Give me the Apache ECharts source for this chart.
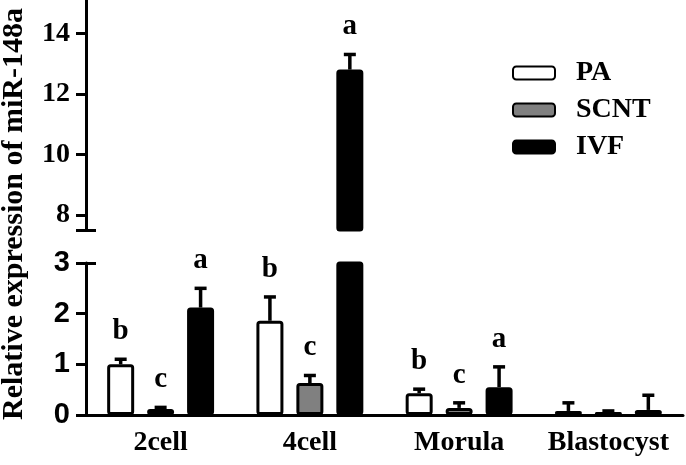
<!DOCTYPE html>
<html>
<head>
<meta charset="utf-8">
<script src="https://cdn.jsdelivr.net/npm/echarts@6/dist/echarts.min.js"></script>
<style>html,body{margin:0;padding:0;background:#fff}#c{width:686px;height:465px}</style>
</head>
<body>
<div id="c"></div>
<script>
var categories = ['2cell', '4cell', 'Morula', 'Blastocyst'];
var seriesNames = ['PA', 'SCNT', 'IVF'];
var paValues = [1.0, 1.86, 0.43, 0.08];
var paErrors = [0.1, 0.47, 0.08, 0.16];
var paLetters = ['b', 'b', 'b', ''];
var scntValues = [0.12, 0.63, 0.14, 0.06];
var scntErrors = [0.03, 0.15, 0.1, 0.02];
var scntLetters = ['c', 'c', 'c', ''];
var ivfValues = [2.12, 12.8, 0.55, 0.1];
var ivfErrors = [0.38, 0.5, 0.4, 0.29];
var ivfLetters = ['a', 'a', 'a', ''];
var lowerTicks = [0, 1, 2, 3];
var upperTicks = [8, 10, 12, 14];
var LOWER_MAX = 3, UPPER_MIN = 7.5, UPPER_MAX = 15.1;

var SERIF = '"Liberation Serif", "Times New Roman", serif';
var SANS = '"Liberation Sans", Arial, sans-serif';
var BAR_W = 27, GAP_FRAC = 0.48;
var fills = ['#ffffff', '#808080', '#000000'];
var allValues = [paValues, scntValues, ivfValues];
var allErrors = [paErrors, scntErrors, ivfErrors];
var allLetters = [paLetters, scntLetters, ivfLetters];

function errData(s, upper) {
  var out = [];
  allValues[s].forEach(function (v, i) {
    if (upper ? v >= UPPER_MIN : v <= LOWER_MAX) out.push([i, v, allErrors[s][i], allLetters[s][i]]);
  });
  return out;
}
function makeRender(s) {
  var off = (s - 1) * BAR_W * (1 + GAP_FRAC);
  return function (params, api) {
    var i = api.value(0), v = api.value(1), e = api.value(2);
    var letter = allLetters[s][i];
    var p0 = api.coord([i, v]);
    var p1 = api.coord([i, v + e]);
    var x = p0[0] + off;
    var children = [
      {type: 'line', shape: {x1: x, y1: p0[1], x2: x, y2: p1[1]}, style: {stroke: '#000', lineWidth: 3.5}},
      {type: 'line', shape: {x1: x - 6, y1: p1[1], x2: x + 6, y2: p1[1]}, style: {stroke: '#000', lineWidth: 3.5}}
    ];
    if (letter) {
      children.push({type: 'text', x: x, y: p1[1] - 13, style: {text: letter, font: 'bold 29px ' + SERIF, fill: '#000', align: 'center', verticalAlign: 'bottom'}});
    }
    return {type: 'group', children: children};
  };
}

var series = [];
seriesNames.forEach(function (name, s) {
  series.push({
    name: name, type: 'bar', xAxisIndex: 0, yAxisIndex: 0,
    data: allValues[s].map(function (v) { return v; }),
    barWidth: BAR_W, barGap: (GAP_FRAC * 100) + '%',
    itemStyle: {color: fills[s], borderColor: '#000', borderWidth: 3, borderRadius: 2},
    emphasis: {disabled: true}, animation: false, clip: true
  });
});
seriesNames.forEach(function (name, s) {
  series.push({
    name: name, type: 'bar', xAxisIndex: 1, yAxisIndex: 2,
    data: allValues[s].map(function (v) { return v >= UPPER_MIN ? v : null; }),
    barWidth: BAR_W, barGap: (GAP_FRAC * 100) + '%',
    itemStyle: {color: fills[s], borderColor: '#000', borderWidth: 3, borderRadius: 2},
    emphasis: {disabled: true}, animation: false, clip: true
  });
});
seriesNames.forEach(function (name, s) {
  series.push({type: 'custom', xAxisIndex: 0, yAxisIndex: 0, data: errData(s, false), renderItem: makeRender(s), animation: false, clip: false, z: 3});
  series.push({type: 'custom', xAxisIndex: 1, yAxisIndex: 2, data: errData(s, true), renderItem: makeRender(s), animation: false, clip: false, z: 3});
});

var axisLineStyle = {color: '#000', width: 3};
var option = {
  backgroundColor: '#fff',
  animation: false,
  grid: [
    {left: 86, right: 3, top: 263, height: 152},
    {left: 86, right: 3, top: 0, height: 230}
  ],
  xAxis: [
    {type: 'category', gridIndex: 0, data: categories,
     axisLine: {lineStyle: axisLineStyle},
     axisTick: {alignWithLabel: true, interval: 0, length: 12, lineStyle: {color: '#000', width: 3}},
     axisLabel: {interval: 0, color: '#000', fontFamily: SERIF, fontWeight: 'bold', fontSize: 28, margin: 14}},
    {type: 'category', gridIndex: 1, data: categories, show: false}
  ],
  yAxis: [
    {type: 'value', gridIndex: 0, min: 0, max: LOWER_MAX, interval: 1,
     axisLine: {show: true, lineStyle: axisLineStyle},
     axisTick: {show: true, length: 10, lineStyle: {color: '#000', width: 3}},
     axisLabel: {color: '#000', fontFamily: SANS, fontWeight: 'bold', fontSize: 29, margin: 16,
       customValues: lowerTicks},
     splitLine: {show: false}},
    {type: 'value', gridIndex: 0, min: 0, max: LOWER_MAX, position: 'left',
     axisLine: {show: false},
     axisTick: {show: true, inside: true, length: 10, customValues: [LOWER_MAX], lineStyle: {color: '#000', width: 3}},
     axisLabel: {show: false}, splitLine: {show: false}},
    {type: 'value', gridIndex: 1, min: UPPER_MIN, max: UPPER_MAX,
     axisLine: {show: true, lineStyle: axisLineStyle},
     axisTick: {show: true, length: 10, customValues: [UPPER_MIN].concat(upperTicks), lineStyle: {color: '#000', width: 3}},
     axisLabel: {color: '#000', fontFamily: SERIF, fontWeight: 'bold', fontSize: 28, margin: 16,
       customValues: upperTicks},
     splitLine: {show: false}},
    {type: 'value', gridIndex: 1, min: UPPER_MIN, max: UPPER_MAX, position: 'left',
     axisLine: {show: false},
     axisTick: {show: true, inside: true, length: 10, customValues: [UPPER_MIN], lineStyle: {color: '#000', width: 3}},
     axisLabel: {show: false}, splitLine: {show: false}}
  ],
  legend: {
    data: seriesNames, orient: 'vertical', left: 512, top: 59, padding: 0,
    itemWidth: 42, itemHeight: 13, itemGap: 9, icon: 'roundRect',
    selectedMode: false,
    textStyle: {color: '#000', fontFamily: SERIF, fontWeight: 'bold', fontSize: 28, padding: [0, 0, 0, 16]}
  },
  graphic: [
    {type: 'text', x: 14, y: 214, rotation: Math.PI / 2,
     style: {text: 'Relative expression of miR-148a', font: 'bold 30px ' + SERIF, fill: '#000', align: 'center', verticalAlign: 'middle'}}
  ],
  series: series
};
var chart = echarts.init(document.getElementById('c'), null, {renderer: 'canvas'});
chart.setOption(option);
</script>
</body>
</html>
